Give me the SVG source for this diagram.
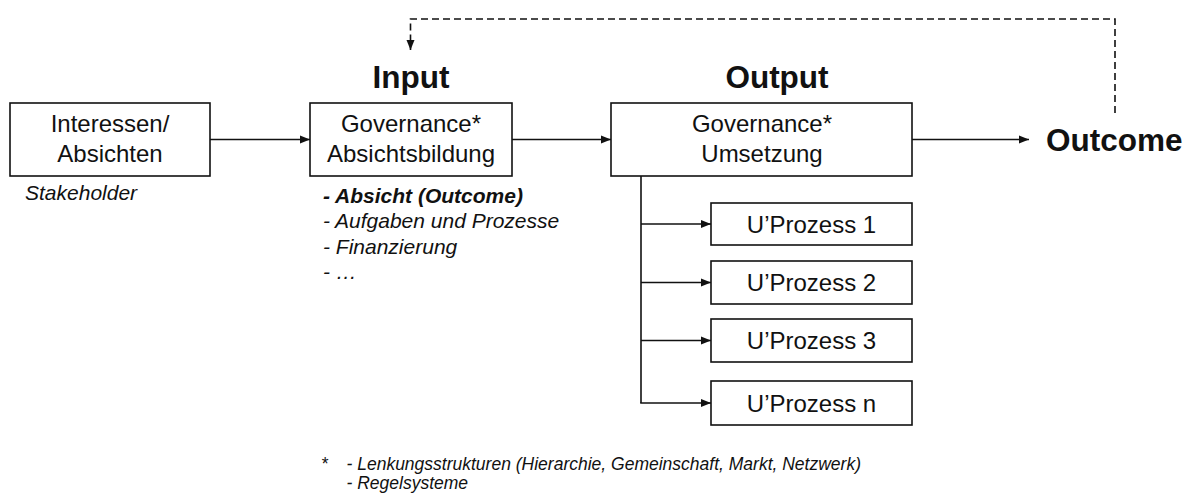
<svg xmlns="http://www.w3.org/2000/svg" width="1193" height="493" viewBox="0 0 1193 493">
<defs>
<style>
text{font-family:"Liberation Sans",Arial,sans-serif;fill:#111}
.box{fill:#fff;stroke:#111;stroke-width:1.6}
.bt{font-size:24px;text-anchor:middle}
.hd{font-size:31.5px;font-weight:bold;text-anchor:middle}
.it{font-size:21px;font-style:italic}
.fn{font-size:17.5px;font-style:italic}
.ln{fill:none;stroke:#111;stroke-width:1.6}
.dash{fill:none;stroke:#111;stroke-width:1.6;stroke-dasharray:7 4}
</style>
<marker id="ah" markerUnits="userSpaceOnUse" markerWidth="11" markerHeight="10" refX="10" refY="5" orient="auto">
<path d="M0,1 L10,5 L0,9 z" fill="#111"/>
</marker>
</defs>
<rect width="1193" height="493" fill="#fff"/>
<g id="connectors">
<line class="ln" x1="210" y1="139.5" x2="310" y2="139.5" marker-end="url(#ah)"/>
<line class="ln" x1="512" y1="139.5" x2="611" y2="139.5" marker-end="url(#ah)"/>
<line class="ln" x1="912" y1="139.5" x2="1029" y2="139.5" marker-end="url(#ah)"/>
<path class="ln" d="M641,176 V403"/>
<line class="ln" x1="641" y1="224" x2="711" y2="224" marker-end="url(#ah)"/>
<line class="ln" x1="641" y1="282.5" x2="711" y2="282.5" marker-end="url(#ah)"/>
<line class="ln" x1="641" y1="340.5" x2="711" y2="340.5" marker-end="url(#ah)"/>
<line class="ln" x1="640.2" y1="403" x2="711" y2="403" marker-end="url(#ah)"/>
<path class="dash" d="M1115,113 V19 H410.5 V50" marker-end="url(#ah)"/>
</g>
<g id="interessen">
<rect class="box" x="10" y="103" width="200" height="73"/>
<text class="bt" x="110" y="132">Interessen/</text>
<text class="bt" x="110" y="162">Absichten</text>
<text class="it" x="25" y="200">Stakeholder</text>
</g>
<g id="input">
<text class="hd" x="411" y="88">Input</text>
<rect class="box" x="310" y="103" width="202" height="73"/>
<text class="bt" x="411" y="132">Governance*</text>
<text class="bt" x="411" y="162">Absichtsbildung</text>
<text class="it" x="323" y="203" font-weight="bold">- Absicht (Outcome)</text>
<text class="it" x="323" y="228">- Aufgaben und Prozesse</text>
<text class="it" x="323" y="254">- Finanzierung</text>
<text class="it" x="323" y="279">- …</text>
</g>
<g id="output">
<text class="hd" x="777" y="88">Output</text>
<rect class="box" x="611" y="103" width="301" height="73"/>
<text class="bt" x="762" y="132">Governance*</text>
<text class="bt" x="762" y="162">Umsetzung</text>
</g>
<g id="outcome">
<text x="1046" y="150.5" style="font-size:31.5px;font-weight:bold">Outcome</text>
</g>
<g id="uprozess1">
<rect class="box" x="711" y="203" width="201" height="42"/>
<text class="bt" x="811.5" y="232.5">U’Prozess 1</text>
</g>
<g id="uprozess2">
<rect class="box" x="711" y="261" width="201" height="43"/>
<text class="bt" x="811.5" y="291">U’Prozess 2</text>
</g>
<g id="uprozess3">
<rect class="box" x="711" y="319" width="201" height="43"/>
<text class="bt" x="811.5" y="349">U’Prozess 3</text>
</g>
<g id="uprozessn">
<rect class="box" x="711" y="381" width="201" height="44"/>
<text class="bt" x="811.5" y="411.5">U’Prozess n</text>
</g>
<g id="footnote">
<text class="fn" x="321" y="470">*</text>
<text class="fn" x="346.5" y="470">- Lenkungsstrukturen (Hierarchie, Gemeinschaft, Markt, Netzwerk)</text>
<text class="fn" x="346.5" y="488.5">- Regelsysteme</text>
</g>
</svg>
